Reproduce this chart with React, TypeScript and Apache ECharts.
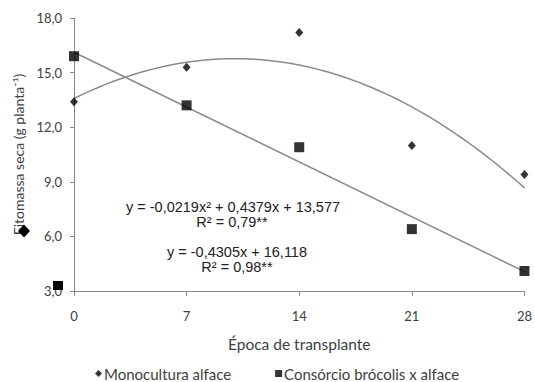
import React, { useEffect, useRef } from "react";
import * as echarts from "echarts";

const xDays = [0, 7, 14, 21, 28];
const yTicks = [3, 6, 9, 12, 15, 18];
const monocultura = [13.4, 15.3, 17.2, 11.0, 9.4];
const consorcio = [15.9, 13.2, 10.9, 6.4, 4.1];
// Trendline coefficients printed on the chart
const quadCoef = [-0.0219, 0.4379, 13.577];
const linCoef = [-0.4305, 16.118];
const eqTexts = [
  "y = -0,0219x² + 0,4379x + 13,577",
  "R² = 0,79**",
  "y = -0,4305x + 16,118",
  "R² = 0,98**",
];

export default function App() {
  const ref = useRef<HTMLDivElement>(null);
  useEffect(() => {
    if (!ref.current) return;
    const chart = echarts.init(ref.current, undefined, { renderer: "svg" });
    const quadLine: number[][] = [];
    for (let i = 0; i <= 56; i++) {
      const x = i / 2;
      quadLine.push([x, quadCoef[0] * x * x + quadCoef[1] * x + quadCoef[2]]);
    }
    const linLine = [
      [0, linCoef[1]],
      [28, linCoef[0] * 28 + linCoef[1]],
    ];
    const txtStyle = { fill: "#222", font: "14.5px 'Liberation Sans', Arial, sans-serif" };
    chart.setOption({
      animation: false,
      grid: { left: 74, right: 8, top: 18, bottom: 382 - 291 },
      xAxis: {
        type: "value",
        min: 0,
        max: 28,
        interval: 7,
        name: "Época de transplante",
        nameLocation: "middle",
        nameGap: 45,
        nameTextStyle: { fontSize: 15.5, color: "#404040", fontFamily: "Lato, sans-serif" },
        axisLine: { lineStyle: { color: "#888", width: 1 } },
        axisTick: { show: true, length: 5, lineStyle: { color: "#888" } },
        axisLabel: { margin: 18, fontSize: 13, color: "#404040", fontFamily: "Lato, sans-serif" },
        splitLine: { show: false },
      },
      yAxis: {
        type: "value",
        min: yTicks[0],
        max: yTicks[yTicks.length - 1],
        interval: 3,
        name: "Fitomassa seca (g planta⁻¹)",
        nameLocation: "middle",
        nameGap: 43,
        nameTextStyle: { fontSize: 14, color: "#404040", fontFamily: "Lato, sans-serif" },
        axisLine: { show: true, lineStyle: { color: "#888", width: 1 } },
        axisTick: { show: true, length: 4, lineStyle: { color: "#888" } },
        axisLabel: {
          margin: 12,
          fontSize: 13,
          color: "#404040",
          fontFamily: "Lato, sans-serif",
          formatter: (v: number) => v.toFixed(1).replace(".", ","),
        },
        splitLine: { show: false },
      },
      legend: {
        data: [
          { name: "Monocultura alface", icon: "diamond" },
          { name: "Consórcio brócolis x alface", icon: "rect" },
        ],
        left: 95,
        top: 366,
        padding: 0,
        itemWidth: 7,
        itemHeight: 7,
        itemGap: 44,
        textStyle: { fontSize: 15, color: "#404040", fontFamily: "Lato, sans-serif", padding: [0, 0, 0, -3] },
      },
      series: [
        {
          type: "line",
          data: quadLine,
          showSymbol: false,
          symbol: "none",
          lineStyle: { color: "#8a8a8a", width: 1.5 },
          silent: true,
          z: 1,
        },
        {
          type: "line",
          data: linLine,
          showSymbol: false,
          symbol: "none",
          lineStyle: { color: "#8a8a8a", width: 1.5 },
          silent: true,
          z: 1,
        },
        {
          name: "Monocultura alface",
          type: "scatter",
          symbol: "diamond",
          symbolSize: [8, 9],
          itemStyle: { color: "#000" },
          data: xDays.map((x, i) => [x, monocultura[i]]),
          z: 3,
        },
        {
          name: "Consórcio brócolis x alface",
          type: "scatter",
          symbol: "rect",
          symbolSize: 10,
          itemStyle: { color: "#000" },
          data: xDays.map((x, i) => [x, consorcio[i]]),
          z: 3,
        },
      ],
      graphic: [
        { type: "text", x: 233, y: 207, style: { ...txtStyle, text: eqTexts[0], align: "center", verticalAlign: "middle" } },
        { type: "text", x: 232, y: 222, style: { ...txtStyle, text: eqTexts[1], align: "center", verticalAlign: "middle" } },
        { type: "text", x: 237, y: 252, style: { ...txtStyle, text: eqTexts[2], align: "center", verticalAlign: "middle" } },
        { type: "text", x: 237, y: 267, style: { ...txtStyle, text: eqTexts[3], align: "center", verticalAlign: "middle" } },
        {
          type: "polygon",
          shape: { points: [[24, 224.5], [30, 231], [24, 237.5], [18, 231]] },
          style: { fill: "#000" },
          z: 10,
        },
        { type: "rect", shape: { x: 53, y: 281, width: 10, height: 9 }, style: { fill: "#000" }, z: 10 },
      ],
    });
    return () => chart.dispose();
  }, []);
  return <div ref={ref} style={{ width: 535, height: 382, position: "absolute", left: 0, top: 0 }} />;
}
